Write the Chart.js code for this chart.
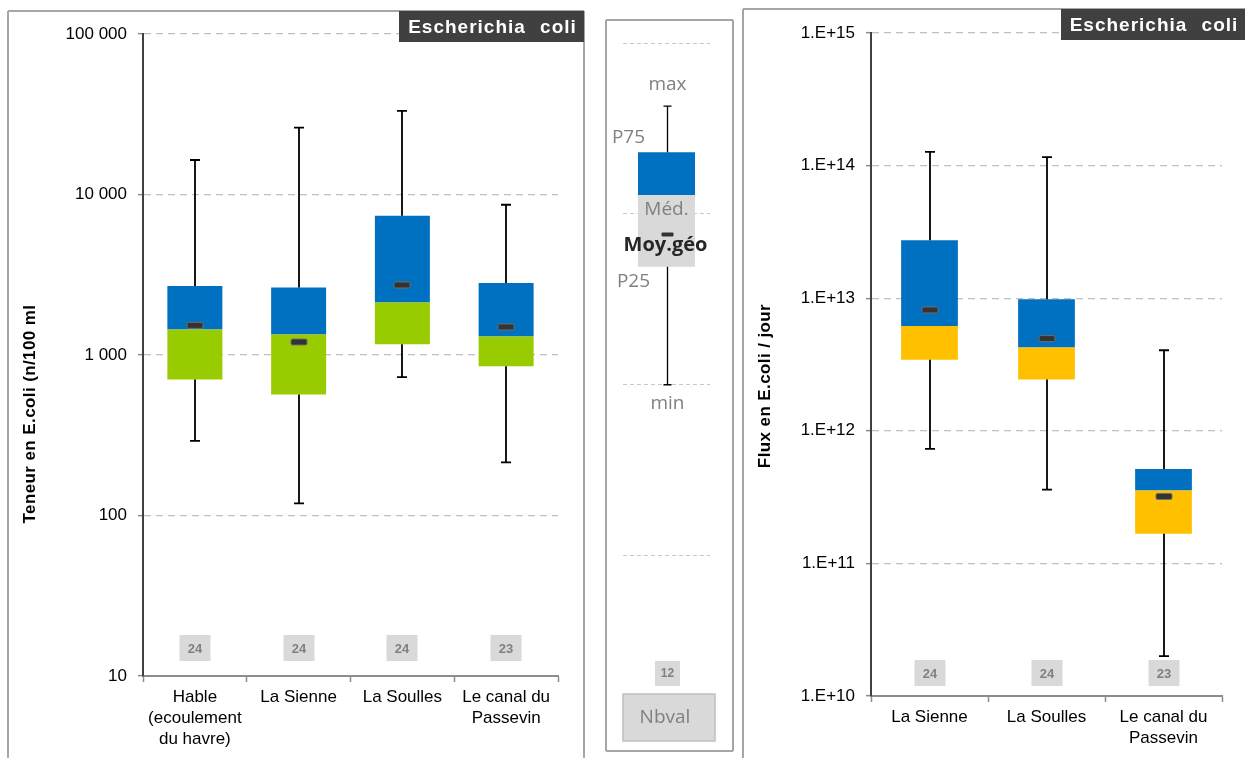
<!DOCTYPE html>
<html>
<head>
<meta charset="utf-8">
<script src="https://cdn.jsdelivr.net/npm/chart.js@4.4.1/dist/chart.umd.min.js"></script>
<style>
  html, body { margin: 0; padding: 0; background: #fff; width: 1245px; height: 758px; overflow: hidden; }
  canvas { position: absolute; top: 0; }
  #teneur { left: 0; }
  #legende { left: 598px; }
  #flux { left: 738px; }
</style>
</head>
<body>
<canvas id="teneur" width="592" height="758"></canvas>
<canvas id="legende" width="140" height="758"></canvas>
<canvas id="flux" width="507" height="758"></canvas>
<script>
// ---- Teneur en E. coli par site (n/100 ml) ----
const sitesTeneur = [['Hable', '(ecoulement', 'du havre)'], 'La Sienne', 'La Soulles', ['Le canal du', 'Passevin']];
const teneurMin = [292, 119, 727, 214];
const teneurP25 = [703, 567, 1166, 851];
const teneurMed = [1440, 1340, 2120, 1302];
const teneurP75 = [2690, 2630, 7370, 2810];
const teneurMax = [16400, 26100, 33200, 8630];
const teneurGeo = [1530, 1205, 2730, 1496];
const teneurNb = [24, 24, 24, 23];
const teneurTicks = [10, 100, 1000, 10000, 100000];
const teneurTickLabels = ['10', '100', '1 000', '10 000', '100 000'];

// ---- Flux journalier en E. coli ----
const sitesFlux = ['La Sienne', 'La Soulles', ['Le canal du', 'Passevin']];
const fluxMin = [7.3e11, 3.6e11, 2.0e10];
const fluxP25 = [3.44e12, 2.44e12, 1.67e11];
const fluxMed = [6.17e12, 4.24e12, 3.54e11];
const fluxP75 = [2.73e13, 9.8e12, 5.15e11];
const fluxMax = [1.27e14, 1.16e14, 4.05e12];
const fluxGeo = [8.15e12, 4.96e12, 3.2e11];
const fluxNb = [24, 24, 23];
const fluxTicks = [1e10, 1e11, 1e12, 1e13, 1e14, 1e15];
const fluxTickLabels = ['1.E+10', '1.E+11', '1.E+12', '1.E+13', '1.E+14', '1.E+15'];

// ---- Boîte de légende ----
const legendeMin = [2.0];
const legendeP25 = [2.69];
const legendeMed = [3.11];
const legendeP75 = [3.36];
const legendeMax = [3.63];
const legendeGeo = [2.88];
const legendeNb = [12];
const legendeGrid = [1, 2, 3, 4];

const PARAM = 'Escherichia coli';
const FONT = '"Liberation Sans", Arial, sans-serif';
const FONT_LEG = '"Open Sans", "Noto Sans", sans-serif';
const BLUE = '#0070C0';
const GREEN = '#99CC00';
const YELLOW = '#FFC000';

Chart.defaults.font.family = FONT;
Chart.defaults.animation = false;

// whiskers, geometric mean marks and sample counts
function boxDecor(st) {
  return {
    id: 'boxDecor',
    afterDatasetsDraw(chart) {
      const { ctx, scales: { x, y }, chartArea } = chart;
      ctx.save();
      st.max.forEach((mx, i) => {
        const cx = Math.round(x.getPixelForValue(i));
        const yMax = y.getPixelForValue(mx);
        const yP75 = y.getPixelForValue(st.p75[i]);
        const yP25 = y.getPixelForValue(st.p25[i]);
        const yMin = y.getPixelForValue(st.min[i]);
        ctx.strokeStyle = '#000';
        ctx.lineWidth = st.lw;
        ctx.beginPath();
        ctx.moveTo(cx, yP75); ctx.lineTo(cx, yMax);
        ctx.moveTo(cx - st.cap / 2, yMax); ctx.lineTo(cx + st.cap / 2, yMax);
        ctx.moveTo(cx, yP25); ctx.lineTo(cx, yMin);
        ctx.moveTo(cx - st.cap / 2, yMin); ctx.lineTo(cx + st.cap / 2, yMin);
        ctx.stroke();

        const yg = y.getPixelForValue(st.geo[i]);
        ctx.fillStyle = '#333';
        ctx.strokeStyle = '#6e6e6e';
        ctx.lineWidth = 1;
        ctx.beginPath();
        ctx.roundRect(cx - st.gw / 2, yg - st.gh / 2, st.gw, st.gh, 1.5);
        ctx.fill();
        ctx.stroke();

        const by = chartArea.bottom - st.nbGap;
        ctx.fillStyle = '#d9d9d9';
        ctx.fillRect(cx - st.nbW / 2, by - st.nbH, st.nbW, st.nbH);
        ctx.fillStyle = '#808080';
        ctx.font = 'bold ' + st.nbFont + 'px ' + FONT;
        ctx.textAlign = 'center';
        ctx.textBaseline = 'middle';
        ctx.fillText(String(st.nb[i]), cx, by - st.nbH / 2 + 1);
      });
      ctx.restore();
    }
  };
}

// panel frame, parameter tag and vertical axis title
function panelDecor(p) {
  return {
    id: 'panelDecor',
    beforeDraw(chart) {
      const ctx = chart.ctx;
      ctx.save();
      ctx.fillStyle = '#fff';
      ctx.fillRect(0, 0, chart.width, chart.height);
      ctx.strokeStyle = '#a6a6a6';
      ctx.lineWidth = 2;
      ctx.beginPath();
      p.frame.forEach(seg => { ctx.moveTo(seg[0], seg[1]); ctx.lineTo(seg[2], seg[3]); });
      ctx.stroke();
      ctx.restore();
    },
    afterDraw(chart) {
      const ctx = chart.ctx;
      ctx.save();
      if (p.tag) {
        const t = p.tag;
        ctx.fillStyle = '#404040';
        ctx.fillRect(t.x, t.y, t.w, t.h);
        ctx.fillStyle = '#fff';
        ctx.font = 'bold 19px ' + FONT;
        ctx.letterSpacing = '1px';
        ctx.wordSpacing = '8px';
        ctx.textAlign = 'center';
        ctx.textBaseline = 'middle';
        ctx.fillText(PARAM, t.x + t.w / 2 + 1, t.y + t.h / 2 + 1);
      }
      if (p.title) {
        const a = p.title;
        ctx.translate(a.x, a.y);
        ctx.rotate(-Math.PI / 2);
        ctx.fillStyle = '#000';
        ctx.font = 'bold 17px ' + FONT;
        ctx.letterSpacing = '0.4px';
        ctx.wordSpacing = '0px';
        ctx.textAlign = 'center';
        ctx.textBaseline = 'middle';
        ctx.fillText(a.text, 0, 0);
      }
      ctx.restore();
    }
  };
}

function boxChart(canvasId, o) {
  return new Chart(document.getElementById(canvasId), {
    type: 'bar',
    data: {
      labels: o.labels,
      datasets: [
        { data: o.p25.map((v, i) => [v, o.med[i]]), backgroundColor: o.lowColor, borderWidth: 0, grouped: false },
        { data: o.med.map((v, i) => [v, o.p75[i]]), backgroundColor: BLUE, borderWidth: 0, grouped: false }
      ]
    },
    options: {
      responsive: false,
      animation: false,
      layout: { padding: o.padding },
      datasets: { bar: { barPercentage: o.barPct, categoryPercentage: 1 } },
      plugins: { legend: { display: false }, tooltip: { enabled: false } },
      scales: {
        x: {
          type: 'category',
          offset: true,
          grid: { display: true, offset: true, drawOnChartArea: false, drawTicks: true, tickLength: 6, tickColor: '#8c8c8c', tickWidth: 1.5 },
          border: { display: true, color: '#8c8c8c', width: 2 },
          ticks: { color: '#000', font: { size: 17, family: FONT, lineHeight: 1.24 }, padding: 5, maxRotation: 0, autoSkip: false },
          afterFit(s) { s.height = o.xHeight; }
        },
        y: {
          type: 'logarithmic',
          min: o.ticks[0],
          max: o.ticks[o.ticks.length - 1],
          afterBuildTicks(s) { s.ticks = o.ticks.map(v => ({ value: v })); },
          ticks: { color: '#000', font: { size: 17, family: FONT }, padding: 11, callback: (v, i) => o.tickLabels[i] },
          grid: { color: '#c0c0c0', lineWidth: 1.3, tickLength: 5, tickColor: '#8c8c8c', tickWidth: 1.5, tickBorderDash: [] },
          border: { display: true, color: '#404040', width: 2, dash: [7, 5] },
          afterFit(s) { s.width = o.yWidth; }
        }
      }
    },
    plugins: [panelDecor(o.panel), boxDecor(o.decor)]
  });
}

boxChart('teneur', {
  labels: sitesTeneur,
  p25: teneurP25, med: teneurMed, p75: teneurP75,
  lowColor: GREEN,
  ticks: teneurTicks, tickLabels: teneurTickLabels,
  padding: { top: 34, right: 34, left: 0, bottom: 0 },
  xHeight: 82, yWidth: 143, barPct: 0.53,
  panel: {
    frame: [[8, 11, 584, 11], [8, 11, 8, 758], [584, 11, 584, 758]],
    tag: { x: 399, y: 11, w: 185, h: 31 },
    title: { x: 30, y: 414, text: 'Teneur en E.coli (n/100 ml' }
  },
  decor: { max: teneurMax, p75: teneurP75, p25: teneurP25, min: teneurMin, geo: teneurGeo, nb: teneurNb,
           lw: 1.8, cap: 10, gw: 16, gh: 6, nbGap: 15, nbW: 31, nbH: 26, nbFont: 13 }
});

boxChart('flux', {
  labels: sitesFlux,
  p25: fluxP25, med: fluxMed, p75: fluxP75,
  lowColor: YELLOW,
  ticks: fluxTicks, tickLabels: fluxTickLabels,
  padding: { top: 33, right: 23, left: 0, bottom: 0 },
  xHeight: 62, yWidth: 133, barPct: 0.485,
  panel: {
    frame: [[5, 9, 507, 9], [5, 9, 5, 758]],
    tag: { x: 323, y: 9, w: 184, h: 31 },
    title: { x: 27, y: 386, text: 'Flux en E.coli / jour' }
  },
  decor: { max: fluxMax, p75: fluxP75, p25: fluxP25, min: fluxMin, geo: fluxGeo, nb: fluxNb,
           lw: 1.8, cap: 10, gw: 16, gh: 6, nbGap: 10, nbW: 31, nbH: 26, nbFont: 13 }
});

// legend panel: a single schematic box with its annotations
new Chart(document.getElementById('legende'), {
  type: 'bar',
  data: {
    labels: [''],
    datasets: [
      { data: legendeP25.map((v, i) => [v, legendeMed[i]]), backgroundColor: '#d9d9d9', borderWidth: 0, grouped: false },
      { data: legendeMed.map((v, i) => [v, legendeP75[i]]), backgroundColor: BLUE, borderWidth: 0, grouped: false }
    ]
  },
  options: {
    responsive: false,
    animation: false,
    layout: { padding: { top: 43, right: 28, left: 0, bottom: 31.5 } },
    datasets: { bar: { barPercentage: 0.655, categoryPercentage: 1 } },
    plugins: { legend: { display: false }, tooltip: { enabled: false } },
    scales: {
      x: { type: 'category', display: false },
      y: {
        type: 'linear', min: 0, max: 4,
        afterBuildTicks(s) { s.ticks = legendeGrid.map(v => ({ value: v })); },
        ticks: { display: false },
        grid: { color: '#c8c8c8', lineWidth: 1, drawTicks: false },
        border: { display: false, dash: [4, 3] },
        afterFit(s) { s.width = 25; }
      }
    }
  },
  plugins: [
    panelDecor({ frame: [[8, 20, 135, 20], [135, 20, 135, 751], [135, 751, 8, 751], [8, 751, 8, 20]] }),
    {
      id: 'legendeDecor',
      afterDatasetsDraw(chart) {
        const { ctx, scales: { x, y }, chartArea } = chart;
        const cx = Math.round(x.getPixelForValue(0)) + 0.5;
        const yMax = y.getPixelForValue(legendeMax[0]);
        const yP75 = y.getPixelForValue(legendeP75[0]);
        const yMed = y.getPixelForValue(legendeMed[0]);
        const yP25 = y.getPixelForValue(legendeP25[0]);
        const yMin = y.getPixelForValue(legendeMin[0]);
        const yGeo = y.getPixelForValue(legendeGeo[0]);
        ctx.save();
        ctx.strokeStyle = '#000';
        ctx.lineWidth = 1.3;
        ctx.beginPath();
        ctx.moveTo(cx, yP75); ctx.lineTo(cx, yMax);
        ctx.moveTo(cx - 4, yMax); ctx.lineTo(cx + 4, yMax);
        ctx.moveTo(cx, yP25); ctx.lineTo(cx, yMin);
        ctx.moveTo(cx - 4, yMin); ctx.lineTo(cx + 4, yMin);
        ctx.stroke();

        ctx.fillStyle = '#333';
        ctx.beginPath();
        ctx.roundRect(cx - 6, yGeo - 2, 12, 4, 1);
        ctx.fill();

        ctx.textAlign = 'center';
        ctx.textBaseline = 'middle';
        ctx.fillStyle = '#808080';
        ctx.font = '19px ' + FONT_LEG;
        ctx.fillText('max', cx, yMax - 22);
        ctx.fillText('P75', cx - 39, yP75 - 15);
        ctx.fillText('Méd.', cx - 1, yMed + 15);
        ctx.fillText('P25', cx - 34, yP25 + 15);
        ctx.fillText('min', cx, yMin + 19);
        ctx.fillStyle = '#262626';
        ctx.font = 'bold 20px ' + FONT_LEG;
        ctx.fillText('Moy.géo', cx - 2, yGeo + 11);

        // sample count and its caption
        const by = chartArea.bottom - 40.5;
        ctx.fillStyle = '#d9d9d9';
        ctx.fillRect(cx - 12.5, by - 25, 25, 25);
        ctx.fillStyle = '#808080';
        ctx.font = 'bold 12px ' + FONT;
        ctx.fillText(String(legendeNb[0]), cx, by - 12);

        ctx.fillStyle = '#d9d9d9';
        ctx.strokeStyle = '#bfbfbf';
        ctx.lineWidth = 1.5;
        ctx.fillRect(25, 694, 92, 47);
        ctx.strokeRect(25, 694, 92, 47);
        ctx.fillStyle = '#808080';
        ctx.font = '19px ' + FONT_LEG;
        ctx.fillText('Nbval', 67, 718);
        ctx.restore();
      }
    }
  ]
});
</script>
</body>
</html>
